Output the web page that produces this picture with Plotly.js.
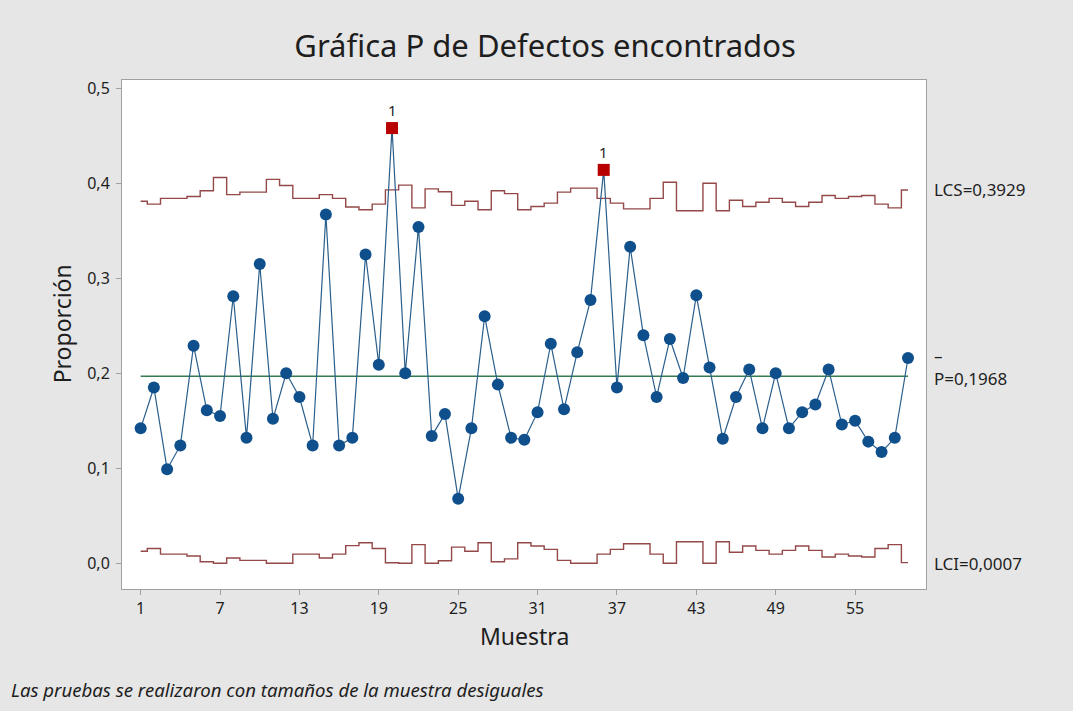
<!DOCTYPE html>
<html>
<head>
<meta charset="utf-8">
<script src="https://cdn.plot.ly/plotly-3.0.1.min.js"></script>
<style>
html,body{margin:0;padding:0;background:#e6e6e6;}
#chart{width:1073px;height:711px;}
</style>
</head>
<body>
<div id="chart"></div>
<script>
// Sample numbers
const muestras = [];
for (let i = 1; i <= 59; i++) muestras.push(i);

// Proportion per sample
const proporcion = [0.142,0.185,0.099,0.124,0.229,0.161,0.155,0.281,0.132,0.315,
  0.152,0.200,0.175,0.124,0.367,0.124,0.132,0.325,0.209,0.458,
  0.200,0.354,0.134,0.157,0.068,0.142,0.260,0.188,0.132,0.130,
  0.159,0.231,0.162,0.222,0.277,0.414,0.185,0.333,0.240,0.175,
  0.236,0.195,0.282,0.206,0.131,0.175,0.204,0.142,0.200,0.142,
  0.159,0.167,0.204,0.146,0.150,0.128,0.117,0.132,0.216];

// Upper control limit per sample (LCS)
const lcs = [0.381,0.378,0.384,0.384,0.386,0.392,0.406,0.388,0.3906,0.3906,
  0.404,0.3976,0.384,0.384,0.388,0.384,0.375,0.372,0.378,0.393,
  0.398,0.374,0.394,0.391,0.3766,0.381,0.372,0.392,0.389,0.372,
  0.3755,0.379,0.3906,0.3948,0.3948,0.384,0.379,0.373,0.373,0.384,
  0.401,0.371,0.371,0.400,0.371,0.382,0.3755,0.380,0.384,0.380,
  0.3755,0.380,0.387,0.384,0.386,0.387,0.378,0.374,0.3929];

// Lower control limit per sample (LCI)
const lci = [0.0126,0.0156,0.0096,0.0096,0.0076,0.0016,0,0.0056,0.003,0.003,
  0,0,0.0096,0.0096,0.0056,0.0096,0.0186,0.0216,0.0156,0.0006,
  0,0.0196,0,0.0026,0.017,0.0126,0.0216,0.0016,0.0046,0.0216,
  0.0181,0.0146,0.003,0,0,0.0096,0.0146,0.0206,0.0206,0.0096,
  0,0.0226,0.0226,0,0.0226,0.0116,0.0181,0.0136,0.0096,0.0136,
  0.0181,0.0136,0.0066,0.0096,0.0076,0.0066,0.0156,0.0196,0.0007];

const pBarra = 0.1968;
const xTicks = [1,7,13,19,25,31,37,43,49,55];

const fuera = proporcion.map((v,i)=> v > lcs[i]);
const limColor = '#944848';
const font = "'Noto Sans', 'Open Sans', sans-serif";

const traces = [
  {x: muestras, y: lcs, mode:'lines', line:{shape:'hvh', color:limColor, width:1.4}, hoverinfo:'skip'},
  {x: muestras, y: lci, mode:'lines', line:{shape:'hvh', color:limColor, width:1.4}, hoverinfo:'skip'},
  {x: [muestras[0], muestras[muestras.length-1]], y:[pBarra,pBarra], mode:'lines',
   line:{color:'#357a50', width:1.5}, hoverinfo:'skip'},
  {x: muestras, y: proporcion, mode:'lines+markers',
   line:{color:'#2a5f8c', width:1.2},
   marker:{size:12,
           symbol: fuera.map(f=> f?'square':'circle'),
           color: fuera.map(f=> f?'#b80000':'#0f4f8c'),
           opacity:1,
           line:{width:0}}}
];

const txt = '#1e1e1e';
const annotations = [];
proporcion.forEach((v,i)=>{
  if (fuera[i]) annotations.push({x: muestras[i], y: v, text:'1', showarrow:false, yshift:18,
    font:{family:font, size:15, color:txt}});
});
annotations.push(
  {xref:'paper', x:1.008, y:lcs[lcs.length-1], xanchor:'left', yanchor:'middle', text:'LCS=0,3929', showarrow:false,
   font:{family:font, size:17, color:txt}},
  {xref:'paper', x:1.008, y:pBarra, yshift:21, xanchor:'left', yanchor:'middle', text:'–', showarrow:false,
   font:{family:font, size:17, color:txt}},
  {xref:'paper', x:1.008, y:pBarra, yshift:-2, xanchor:'left', yanchor:'middle', text:'P=0,1968', showarrow:false,
   font:{family:font, size:17, color:txt}},
  {xref:'paper', x:1.008, y:0, xanchor:'left', yanchor:'middle', text:'LCI=0,0007', showarrow:false,
   font:{family:font, size:17, color:txt}},
  {xref:'paper', yref:'paper', x:0.5, y:-0.093, xanchor:'center', yanchor:'middle', text:'Muestra', showarrow:false,
   font:{family:font, size:23, color:txt}},
  {xref:'paper', yref:'paper', x:-0.0746, y:0.52, xanchor:'center', yanchor:'middle', text:'Proporción', textangle:-90, showarrow:false,
   font:{family:font, size:23, color:txt}},
  {xref:'paper', yref:'paper', x:-0.141, y:-0.197, xanchor:'left', yanchor:'middle',
   text:'<i>Las pruebas se realizaron con tamaños de la muestra desiguales</i>', showarrow:false,
   font:{family:font, size:18.6, color:txt}}
);

const layout = {
  width:1073, height:711,
  paper_bgcolor:'#e6e6e6', plot_bgcolor:'#ffffff',
  margin:{l:122, r:147, t:80, b:122},
  separators:',.',
  showlegend:false,
  font:{family:font, color:txt},
  title:{text:'Gráfica P de Defectos encontrados', xref:'container', x:0.508, xanchor:'center',
         yref:'container', y:0.935, yanchor:'middle', font:{family:font, size:31, color:txt}},
  xaxis:{range:[-0.41,60.36], tickvals:xTicks, ticktext:xTicks.map(String), showgrid:false, zeroline:false,
         showline:true, mirror:true, linecolor:'#a0a0a0', linewidth:1,
         ticks:'outside', ticklen:5, tickcolor:'#a0a0a0', tickfont:{size:16, color:txt}},
  yaxis:{range:[-0.0271,0.5086], tickvals:[0,0.1,0.2,0.3,0.4,0.5], tickformat:'.1f', showgrid:false, zeroline:false,
         showline:true, mirror:true, linecolor:'#a0a0a0', linewidth:1,
         ticks:'outside', ticklen:5, tickcolor:'#a0a0a0', tickfont:{size:16, color:txt},
         ticklabelstandoff:3},
  annotations: annotations
};

Plotly.newPlot('chart', traces, layout, {displayModeBar:false, staticPlot:true});
</script>
</body>
</html>
